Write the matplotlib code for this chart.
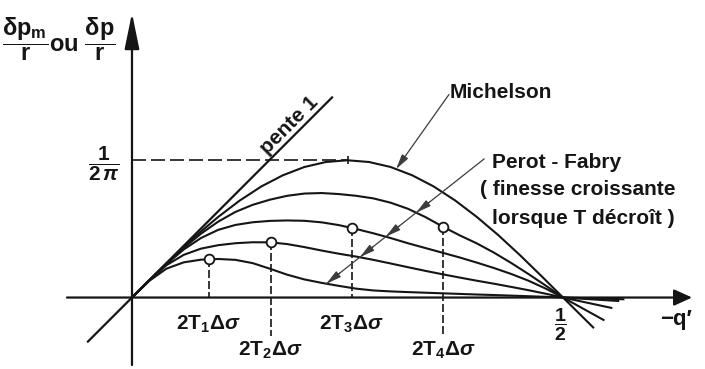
import numpy as np
import matplotlib
matplotlib.use("Agg")
import matplotlib.pyplot as plt

# bold sans everywhere, math text in the same face
plt.rcParams['font.family'] = ['Liberation Sans', 'DejaVu Sans']
plt.rcParams['font.weight'] = 'bold'
plt.rcParams['mathtext.fontset'] = 'custom'
plt.rcParams['mathtext.rm'] = 'Liberation Sans:bold'
plt.rcParams['mathtext.it'] = 'Liberation Sans:bold:italic'
plt.rcParams['mathtext.bf'] = 'Liberation Sans:bold'

ink = '#151515'
thin = '#3c3c3c'

# Michelson curve, -q' from 0 to a bit past 1/2
q_m = [0.0, 0.025, 0.05, 0.075, 0.1, 0.125, 0.15, 0.175, 0.2, 0.225, 0.25,
       0.275, 0.3, 0.325, 0.35, 0.375, 0.4, 0.425, 0.45, 0.475, 0.5, 0.535]
michelson = [0.0, 0.0249, 0.0492, 0.0723, 0.0935, 0.1125, 0.1288, 0.1418, 0.1514,
             0.1572, 0.1592, 0.1572, 0.1514, 0.1418, 0.1288, 0.1125, 0.0935,
             0.0723, 0.0492, 0.0249, 0.0, -0.0347]

# Perot-Fabry curves (finesse increases from T4 to T1)
q_pf = [0.0, 0.02, 0.04, 0.06, 0.08, 0.1, 0.12, 0.14, 0.16, 0.18, 0.2, 0.22, 0.24,
        0.26, 0.28, 0.3, 0.32, 0.34, 0.36, 0.38, 0.4, 0.42, 0.44, 0.46, 0.48, 0.5]
pf_t4 = [0.0, 0.0199, 0.0393, 0.0575, 0.0740, 0.0880, 0.0993, 0.1075, 0.1135,
         0.1180, 0.1206, 0.1212, 0.1200, 0.1180, 0.1150, 0.1100, 0.1030, 0.0935,
         0.0825, 0.0722, 0.0628, 0.0520, 0.0400, 0.0272, 0.0138, 0.0]
pf_t3 = [0.0, 0.0198, 0.0388, 0.0557, 0.0690, 0.0785, 0.0842, 0.0873, 0.0889,
         0.0894, 0.0890, 0.0872, 0.0840, 0.0795, 0.0745, 0.0690, 0.0630, 0.0575,
         0.0520, 0.0465, 0.0405, 0.0342, 0.0273, 0.0195, 0.0103, 0.0]
pf_t2 = [0.0, 0.0197, 0.0375, 0.0495, 0.0567, 0.0607, 0.0630, 0.0641, 0.0640,
         0.0620, 0.0585, 0.0545, 0.0508, 0.0475, 0.0437, 0.0395, 0.0352, 0.0310,
         0.0270, 0.0232, 0.0195, 0.0160, 0.0123, 0.0085, 0.0044, 0.0]
pf_t1 = [0.0, 0.0193, 0.0335, 0.0408, 0.0439, 0.0447, 0.0437, 0.0399, 0.0334,
         0.0265, 0.0210, 0.0170, 0.0135, 0.0103, 0.0082, 0.0071, 0.0063, 0.0056,
         0.0049, 0.0042, 0.0035, 0.0029, 0.0022, 0.0015, 0.0008, 0.0]
# where each Perot-Fabry curve stops beyond 1/2 (T4, T3, T2, T1)
tail_q = [0.547, 0.556, 0.564, 0.570]
tail_y = [-0.026, -0.012, -0.004, -0.002]

# 2T.dsigma abscissae marked on the T1..T4 curves
t_pos = [0.089, 0.161, 0.255, 0.361]
t_labels = [r'$\mathrm{2T_1}\mathit{\Delta\sigma}$', r'$\mathrm{2T_2}\mathit{\Delta\sigma}$',
            r'$\mathrm{2T_3}\mathit{\Delta\sigma}$', r'$\mathrm{2T_4}\mathit{\Delta\sigma}$']
t_drop = [0.0, -0.045, 0.0, -0.045]
t_label_y = [-0.037, -0.0675, -0.037, -0.0675]

fig = plt.figure(figsize=(7.05, 3.69), dpi=100)
ax = fig.add_axes([0, 0, 1, 1])
ax.set_xlim(-0.1531, 0.6647)
ax.set_ylim(-0.0829, 0.3451)
ax.axis('off')

# axes with arrows
ax.annotate('', xy=(0.6497, 0), xytext=(-0.0754, 0),
            arrowprops=dict(arrowstyle='-|>,head_length=1.1,head_width=0.5', mutation_scale=10,
                            lw=1.6, color=ink, shrinkA=0, shrinkB=0))
ax.annotate('', xy=(0, 0.330), xytext=(0, -0.0783),
            arrowprops=dict(arrowstyle='-|>,head_length=2.2,head_width=0.45', mutation_scale=10,
                            lw=1.6, color=ink, shrinkA=0, shrinkB=0))

# slope 1 line
ax.plot([-0.052, 0.233], [-0.052, 0.233], color=ink, lw=1.6, solid_capstyle='butt')
ax.text(0.183, 0.200, 'pente 1', rotation=45, ha='center', va='center', fontsize=15,
        rotation_mode='anchor', color=ink)

# curves
ax.plot(q_m, michelson, color=ink, lw=1.5)
pf_curves = [pf_t4, pf_t3, pf_t2, pf_t1]
for ys, tq, ty in zip(pf_curves, tail_q, tail_y):
    ax.plot(q_pf + [tq], ys + [ty], color=ink, lw=1.5)

# 1/(2 pi) level
peak = int(np.argmax(michelson))
ax.plot([0, q_m[peak]], [michelson[peak]] * 2, color=ink, lw=1.2, dashes=(8.4, 3))
ax.plot([q_m[peak]], [michelson[peak]], marker='|', ms=6, mew=1.2, color=ink)
ax.text(-0.0325, 0.1549, r'$\dfrac{1}{2\,\pi}$', ha='center', va='center', fontsize=15, color=ink)

# marked points on the Perot-Fabry curves
for xt, ys, yb, lab, ly in zip(t_pos, [pf_t1, pf_t2, pf_t3, pf_t4], t_drop, t_labels, t_label_y):
    yt = np.interp(xt, q_pf, ys)
    ax.plot([xt, xt], [yt, yb], color=ink, lw=1.2, dashes=(4.8, 1.8))
    ax.plot([xt], [yt], 'o', ms=7, mfc='white', mec=ink, mew=1.3, zorder=5)
    ax.text(xt, ly, lab, ha='center', va='baseline', fontsize=15, color=ink)

# axis labels
ax.text(0.4975, -0.0319, r'$\dfrac{1}{2}$', ha='center', va='center', fontsize=14, color=ink)
ax.text(0.6125, -0.0319, '\u2212q\u2032', ha='left', va='baseline', fontsize=16, color=ink)
ax.text(-0.0845, 0.3000, r'$\dfrac{\mathrm{\delta p_m}}{\mathrm{r}}$ou $\dfrac{\mathrm{\delta p}}{\mathrm{r}}$',
        ha='center', va='center', fontsize=17, color=ink)


def hit(p0, p1, qx, qy):
    # first point where the segment p0 -> p1 drops below the curve
    t = np.linspace(0, 1, 4000)
    lx = p0[0] + t * (p1[0] - p0[0])
    ly = p0[1] + t * (p1[1] - p0[1])
    d = ly - np.interp(lx, qx, qy)
    i = np.nonzero(d < 0)[0][0]
    return lx[i], ly[i]


head = dict(arrowstyle='-|>,head_length=0.9,head_width=0.22', mutation_scale=10,
            lw=0.9, color=thin, shrinkA=0, shrinkB=0)

# Michelson leader
m0 = (0.3677, 0.2355)
mx, my = hit(m0, (0.30, 0.140), q_m, michelson)
ax.annotate('', xy=(mx, my), xytext=m0, arrowprops=head)
ax.text(0.3689, 0.232, 'Michelson', ha='left', va='baseline', fontsize=15, color=ink)

# Perot-Fabry leader, one arrow head on each curve it crosses
p0 = (0.4084, 0.1607)
p1 = (0.19, -0.012)
tips = [hit(p0, p1, q_pf, ys) for ys in pf_curves]
ax.plot([p0[0], tips[-1][0]], [p0[1], tips[-1][1]], color=thin, lw=0.9)
ux, uy = p0[0] - p1[0], p0[1] - p1[1]
n = np.hypot(ux, uy)
for tx, ty in tips:
    ax.annotate('', xy=(tx, ty), xytext=(tx + 0.02 * ux / n, ty + 0.02 * uy / n), arrowprops=head)

ax.text(0.4176, 0.1499, 'Perot - Fabry', ha='left', va='baseline', fontsize=15, color=ink)
ax.text(0.4037, 0.1189, '( finesse croissante', ha='left', va='baseline', fontsize=15, color=ink)
ax.text(0.4176, 0.0853, 'lorsque T décroît )', ha='left', va='baseline', fontsize=15, color=ink)

fig.savefig('out.png', dpi=100, facecolor='white')
